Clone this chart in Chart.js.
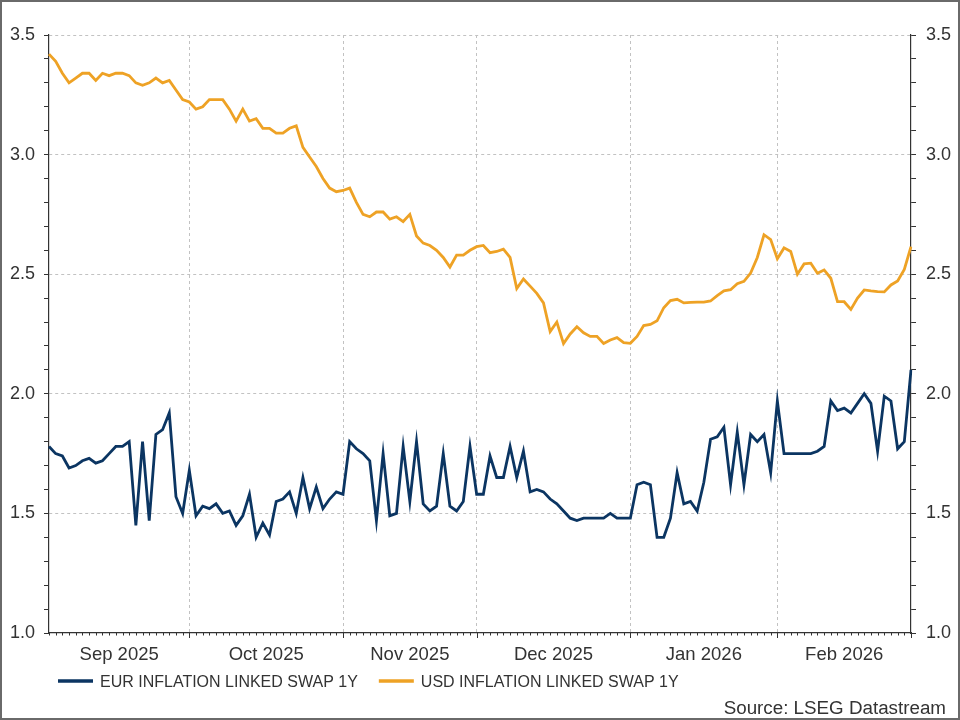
<!DOCTYPE html>
<html>
<head>
<meta charset="utf-8">
<script src="https://cdn.jsdelivr.net/npm/chart.js@4/dist/chart.umd.min.js"></script>
<style>
  html, body { margin: 0; padding: 0; background: #ffffff; }
  #wrap { position: relative; width: 960px; height: 720px; }
  canvas { display: block; }
</style>
</head>
<body>
<div id="wrap"><canvas id="c" width="960" height="720"></canvas></div>
<script>
// ---- data (business days, 1 Sep 2025 .. 27 Feb 2026) ----
const startDate = '2025-09-01';
const endDate = '2026-02-27';
const seriesNames = ['EUR INFLATION LINKED SWAP 1Y', 'USD INFLATION LINKED SWAP 1Y'];
const yTickLabels = ['1.0', '1.5', '2.0', '2.5', '3.0', '3.5'];
const sourceText = 'Source: LSEG Datastream';

const eurValues = [
  1.78, 1.75, 1.74, 1.69, 1.70, 1.72, 1.73, 1.71, 1.72, 1.75,
  1.78, 1.78, 1.80, 1.45, 1.80, 1.47, 1.83, 1.85, 1.92, 1.57,
  1.50, 1.68, 1.49, 1.53, 1.52, 1.54, 1.50, 1.51, 1.45, 1.49,
  1.58, 1.40, 1.46, 1.41, 1.55, 1.56, 1.59, 1.50, 1.65, 1.52,
  1.61, 1.52, 1.56, 1.59, 1.58, 1.80, 1.77, 1.75, 1.72, 1.47,
  1.75, 1.49, 1.50, 1.78, 1.55, 1.80, 1.54, 1.51, 1.53, 1.75,
  1.53, 1.51, 1.55, 1.78, 1.58, 1.58, 1.74, 1.65, 1.65, 1.78,
  1.65, 1.76, 1.59, 1.60, 1.59, 1.56, 1.54, 1.51, 1.48, 1.47,
  1.48, 1.48, 1.48, 1.48, 1.50, 1.48, 1.48, 1.48, 1.62, 1.63,
  1.62, 1.40, 1.40, 1.48, 1.67, 1.54, 1.55, 1.51, 1.63, 1.81,
  1.82, 1.86, 1.62, 1.84, 1.62, 1.83, 1.80, 1.83, 1.67, 1.97,
  1.75, 1.75, 1.75, 1.75, 1.75, 1.76, 1.78, 1.97, 1.93, 1.94,
  1.92, 1.96, 2.00, 1.96, 1.76, 1.99, 1.97, 1.77, 1.80, 2.10
];

const usdValues = [
  3.42, 3.39, 3.34, 3.30, 3.32, 3.34, 3.34, 3.31, 3.34, 3.33,
  3.34, 3.34, 3.33, 3.30, 3.29, 3.30, 3.32, 3.30, 3.31, 3.27,
  3.23, 3.22, 3.19, 3.20, 3.23, 3.23, 3.23, 3.19, 3.14, 3.19,
  3.14, 3.15, 3.11, 3.11, 3.09, 3.09, 3.11, 3.12, 3.03, 2.99,
  2.95, 2.90, 2.86, 2.845, 2.85, 2.86, 2.80, 2.75, 2.74, 2.76,
  2.76, 2.73, 2.74, 2.72, 2.75, 2.66, 2.63, 2.62, 2.60, 2.57,
  2.53, 2.58, 2.58, 2.60, 2.615, 2.62, 2.59, 2.595, 2.605, 2.57,
  2.44, 2.48, 2.45, 2.42, 2.38, 2.26, 2.30, 2.21, 2.25, 2.28,
  2.255, 2.24, 2.24, 2.21, 2.225, 2.235, 2.214, 2.211, 2.24, 2.285,
  2.29, 2.305, 2.36, 2.39, 2.395, 2.38, 2.382, 2.383, 2.383, 2.388,
  2.41, 2.43, 2.435, 2.46, 2.47, 2.505, 2.57, 2.665, 2.645, 2.565,
  2.61, 2.595, 2.50, 2.543, 2.546, 2.504, 2.518, 2.483, 2.385, 2.385,
  2.353, 2.40, 2.434, 2.43, 2.427, 2.426, 2.455, 2.472, 2.52, 2.615
];

// ---- categories: business days between startDate and endDate ----
function businessDays(a, b) {
  const out = [];
  const d = new Date(a + 'T00:00:00Z');
  const e = new Date(b + 'T00:00:00Z');
  while (d <= e) {
    const wd = d.getUTCDay();
    if (wd !== 0 && wd !== 6) out.push(d.toISOString().slice(0, 10));
    d.setUTCDate(d.getUTCDate() + 1);
  }
  return out;
}
const dates = businessDays(startDate, endDate);
const monthNames = ['Jan','Feb','Mar','Apr','May','Jun','Jul','Aug','Sep','Oct','Nov','Dec'];

// month groups: [firstIndex, lastIndex, label]
const monthGroups = [];
dates.forEach((d, i) => {
  const key = d.slice(0, 7);
  const last = monthGroups[monthGroups.length - 1];
  if (!last || last.key !== key) {
    monthGroups.push({ key, first: i, last: i,
      label: monthNames[parseInt(d.slice(5, 7), 10) - 1] + ' ' + d.slice(0, 4) });
  } else {
    last.last = i;
  }
});
const monthEndIdx = new Set(monthGroups.map(g => g.last));

// ---- styles ----
const FONT = '"Liberation Sans", Arial, Helvetica, sans-serif';
const TEXT = '#333333';
const AXIS = '#333333';
const GRID = '#c2c2c2';
const colors = ['#0b3562', '#eea225'];

function isHalf(v) { return Math.abs(v * 2 - Math.round(v * 2)) < 1e-6; }

const decorPlugin = {
  id: 'decor',
  afterDraw(chart) {
    const ctx = chart.ctx;
    const xs = chart.scales.x;
    const bottom = chart.chartArea.bottom;
    ctx.save();
    // x ticks
    ctx.strokeStyle = AXIS;
    ctx.lineWidth = 1;
    dates.forEach((d, i) => {
      const px = Math.round(xs.getPixelForValue(i)) + 0.5;
      const len = monthEndIdx.has(i) ? 5 : 2.5;
      ctx.beginPath();
      ctx.moveTo(px, bottom);
      ctx.lineTo(px, bottom + len);
      ctx.stroke();
    });
    // month labels centered within each month span
    ctx.fillStyle = TEXT;
    ctx.font = '18.5px ' + FONT;
    ctx.textAlign = 'center';
    ctx.textBaseline = 'alphabetic';
    let prevEnd = 0;
    monthGroups.forEach((g, k) => {
      const a = xs.getPixelForValue(k === 0 ? g.first : prevEnd);
      const b = xs.getPixelForValue(g.last);
      prevEnd = g.last;
      ctx.fillText(g.label, (a + b) / 2, bottom + 27);
    });
    // legend
    ctx.font = '16px ' + FONT;
    ctx.textAlign = 'left';
    let lx = 58;
    const ly = 681;
    chart.data.datasets.forEach(ds => {
      ctx.strokeStyle = ds.borderColor;
      ctx.lineWidth = 3.5;
      ctx.beginPath();
      ctx.moveTo(lx, ly);
      ctx.lineTo(lx + 35, ly);
      ctx.stroke();
      ctx.fillStyle = TEXT;
      ctx.fillText(ds.label, lx + 42, ly + 6);
      lx += 42 + ctx.measureText(ds.label).width + 21;
    });
    // source
    ctx.font = '18.8px ' + FONT;
    ctx.textAlign = 'right';
    ctx.fillText(sourceText, 946, 713.5);
    // frame
    ctx.strokeStyle = '#6a6a6a';
    ctx.lineWidth = 2;
    ctx.strokeRect(1, 1, 958, 718);
    ctx.restore();
  }
};

const yCommon = {
  type: 'linear',
  min: 1.0,
  max: 3.5,
  afterBuildTicks(scale) {
    const t = [];
    for (let k = 10; k <= 35; k++) t.push({ value: k / 10 });
    scale.ticks = t;
  },
  ticks: {
    color: TEXT,
    autoSkip: false,
    font: { family: FONT, size: 18 },
    callback(v) {
      const s = Number(v).toFixed(1);
      return isHalf(v) && yTickLabels.includes(s) ? s : '';
    }
  },
  border: { display: true, color: AXIS, width: 1.2, dash: [3, 3] }
};

new Chart(document.getElementById('c'), {
  type: 'line',
  data: {
    labels: dates,
    datasets: [
      { label: seriesNames[0], data: eurValues, borderColor: colors[0], backgroundColor: colors[0],
        borderWidth: 2.8, pointRadius: 0, tension: 0, fill: false, yAxisID: 'y' },
      { label: seriesNames[1], data: usdValues, borderColor: colors[1], backgroundColor: colors[1],
        borderWidth: 2.8, pointRadius: 0, tension: 0, fill: false, yAxisID: 'y' }
    ]
  },
  options: {
    responsive: false,
    animation: false,
    devicePixelRatio: 1,
    layout: { padding: { top: 35, left: 0, right: 0, bottom: 0 } },
    plugins: { legend: { display: false }, tooltip: { enabled: false }, title: { display: false } },
    scales: {
      x: {
        type: 'category',
        offset: false,
        afterFit(scale) { scale.height = 87; },
        ticks: { display: false, autoSkip: false },
        grid: {
          drawTicks: false,
          lineWidth: 1,
          color: ctx => (ctx.index !== undefined && monthEndIdx.has(ctx.index) && ctx.index !== dates.length - 1) ? GRID : 'rgba(0,0,0,0)'
        },
        border: { display: true, color: AXIS, width: 1.2, dash: [3, 3] }
      },
      y: Object.assign({}, yCommon, {
        position: 'left',
        afterFit(scale) { scale.width = 49; },
        ticks: Object.assign({}, yCommon.ticks, { padding: 9 }),
        grid: {
          drawOnChartArea: true,
          drawTicks: true,
          tickLength: 5,
          tickColor: AXIS,
          tickWidth: 1,
          tickBorderDash: [],
          lineWidth: 1,
          color: ctx => (ctx.tick && isHalf(ctx.tick.value) && ctx.tick.value > 1.01) ? GRID : 'rgba(0,0,0,0)'
        }
      }),
      y2: Object.assign({}, yCommon, {
        position: 'right',
        afterFit(scale) { scale.width = 49; },
        ticks: Object.assign({}, yCommon.ticks, { padding: 10 }),
        grid: {
          drawOnChartArea: false,
          drawTicks: true,
          tickLength: 5,
          tickColor: AXIS,
          tickWidth: 1,
          tickBorderDash: [],
          color: 'rgba(0,0,0,0)'
        }
      })
    }
  },
  plugins: [decorPlugin]
});
</script>
</body>
</html>
